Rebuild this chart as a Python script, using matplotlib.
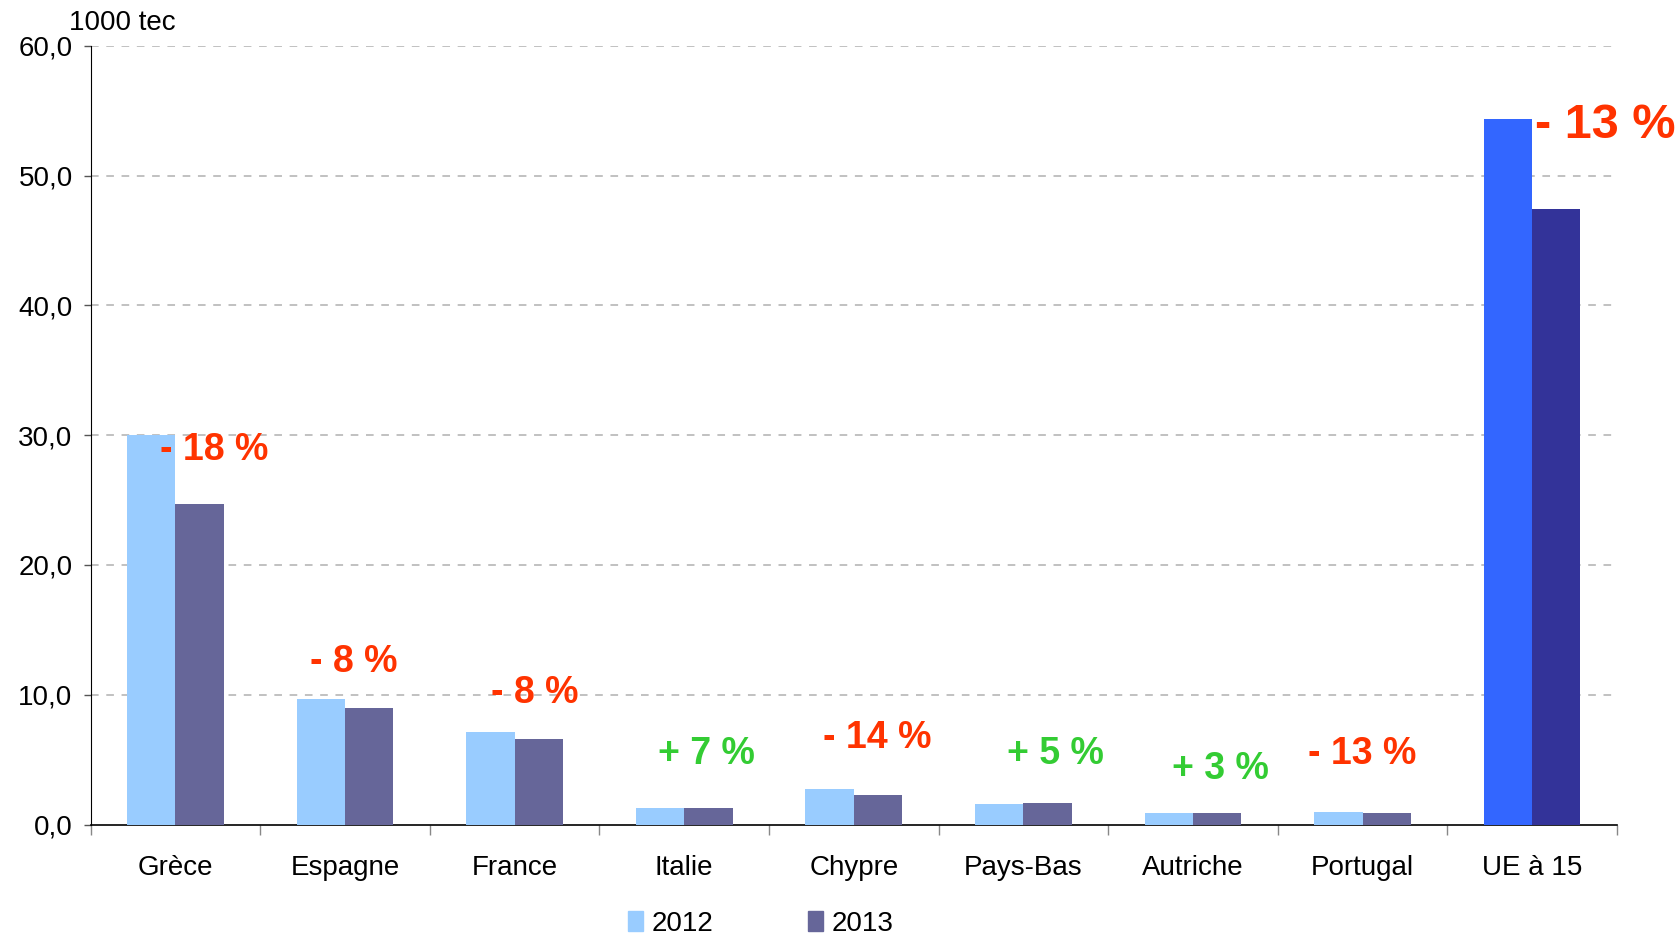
import matplotlib
matplotlib.use("Agg")
import matplotlib.pyplot as plt
import numpy as np
from matplotlib.ticker import FuncFormatter, MultipleLocator
from matplotlib.patches import Patch

plt.rcParams['font.family'] = ['Liberation Sans', 'DejaVu Sans']

categories = ["Grèce", "Espagne", "France", "Italie", "Chypre", "Pays-Bas", "Autriche", "Portugal", "UE à 15"]
values_2012 = [30.0, 9.65, 7.1, 1.25, 2.7, 1.55, 0.85, 1.0, 54.4]
values_2013 = [24.7, 9.0, 6.6, 1.30, 2.3, 1.65, 0.88, 0.87, 47.4]
changes = ["- 18 %", "- 8 %", "- 8 %", "+ 7 %", "- 14 %", "+ 5 %", "+ 3 %", "- 13 %", "- 13 %"]
series_labels = ["2012", "2013"]

# layout (positions of annotations, in data units)
ann_x = [0.23, 1.05, 2.12, 3.13, 4.14, 5.19, 6.16, 7.0, 8.43]
ann_y = [28.9, 12.5, 10.1, 5.45, 6.7, 5.45, 4.3, 5.45, 53.9]

c12, c13 = "#99CCFF", "#666699"
c12_ue, c13_ue = "#3366FF", "#333399"
red, green = "#FF3300", "#33CC33"

fig = plt.figure(figsize=(16.79, 9.38), dpi=100)
ax = fig.add_axes([0.054, 0.121, 0.909, 0.830])

x = np.arange(len(categories))
w = 0.285
cols12 = [c12] * (len(categories) - 1) + [c12_ue]
cols13 = [c13] * (len(categories) - 1) + [c13_ue]
ax.bar(x - w / 2, values_2012, w, color=cols12, zorder=3)
ax.bar(x + w / 2, values_2013, w, color=cols13, zorder=3)

ax.set_xlim(-0.5, len(categories) - 0.5)
ax.set_ylim(0, 60)
ax.yaxis.set_major_locator(MultipleLocator(10))
ax.yaxis.set_major_formatter(FuncFormatter(lambda v, p: f"{v:.1f}".replace(".", ",")))
ax.tick_params(axis='y', labelsize=20, length=5, width=1, color='#555555', pad=8)
for yv in range(10, 61, 10):
    ax.axhline(yv, color='#B0B0B0', lw=1.1, ls=(0, (5, 5)), zorder=1)

ax.set_xticks(np.arange(-0.5, len(categories), 1.0))
ax.set_xticklabels([])
ax.set_xticks(x, minor=True)
ax.set_xticklabels(categories, minor=True, fontsize=20)
ax.tick_params(axis='x', which='major', length=7, width=1, color='#888888', direction='out')
ax.tick_params(axis='x', which='minor', length=0, pad=22)

for s in ['top', 'right']:
    ax.spines[s].set_visible(False)
ax.spines['left'].set_color('black')
ax.spines['bottom'].set_color('black')
ax.spines['bottom'].set_linewidth(1.2)

for i, (lab, xa, ya) in enumerate(zip(changes, ann_x, ann_y)):
    col = green if lab.startswith('+') else red
    fs = 35 if i == len(categories) - 1 else 27
    ax.text(xa, ya, lab, color=col, fontsize=fs, fontweight='bold', ha='center', va='center', zorder=5)

fig.text(0.041, 0.975, "1000 tec", fontsize=20, ha='left', va='center')

handles = [Patch(color=c12), Patch(color=c13)]
fig.legend(handles, series_labels, loc='center', bbox_to_anchor=(0.453, 0.015), ncol=2, frameon=False,
           fontsize=20, handlelength=0.55, handleheight=0.7, handletextpad=0.3, columnspacing=3.4,
           borderpad=0, borderaxespad=0)

fig.savefig("out.png", dpi=100)
